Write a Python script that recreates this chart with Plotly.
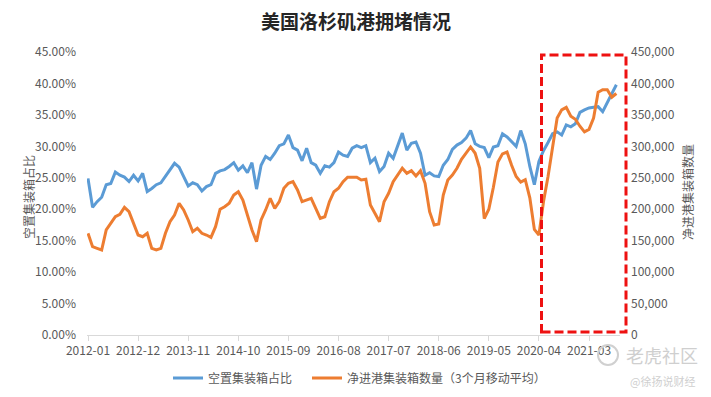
import pandas as pd
import plotly.graph_objects as go

# ---- data ----
months = [d.strftime("%Y-%m") for d in pd.date_range("2012-01-01", periods=117, freq="MS")]

empty_ratio = [
    24.9, 20.3, 21.2, 21.9, 23.9, 24.1, 25.9, 25.4, 25.1, 24.4,
    25.4, 24.5, 25.7, 22.8, 23.3, 23.9, 24.2, 25.3, 26.3, 27.3,
    26.7, 25.2, 23.7, 24.2, 23.9, 22.9, 23.6, 23.9, 25.7, 26.1,
    26.3, 26.8, 27.4, 26.2, 26.9, 25.8, 27.4, 23.2, 27.0, 28.4,
    27.9, 28.9, 30.1, 30.4, 31.8, 29.8, 29.4, 27.7, 29.7, 27.4,
    27.0, 25.7, 26.9, 26.7, 27.4, 29.1, 28.6, 28.4, 29.7, 30.1,
    29.8, 30.1, 27.4, 28.1, 26.0, 26.8, 28.9, 28.1, 30.2, 32.1,
    29.4, 30.5, 30.7, 28.9, 25.4, 25.8, 25.3, 25.2, 27.0, 27.9,
    29.5, 30.2, 30.6, 31.3, 32.5, 30.4, 30.0, 29.8, 28.2, 29.9,
    30.1, 32.0, 31.5, 30.7, 30.0, 32.5, 30.4, 26.8, 23.9, 27.6,
    29.3, 30.6, 32.0, 32.3, 31.8, 33.4, 33.1, 33.6, 35.4, 35.8,
    36.1, 36.2, 36.3, 35.5, 37.0, 38.5, 39.8,
]

net_inbound = [
    161700, 140400, 137800, 135200, 167000, 177600, 188100, 191900, 203000, 196100,
    177600, 159000, 156300, 161700, 137800, 135200, 137800, 161700, 180200, 190800,
    209400, 198800, 182900, 164300, 169600, 161700, 159000, 155300, 172200, 200000,
    204000, 209400, 222600, 227900, 214700, 190800, 167000, 148400, 182900, 198800,
    217400, 201400, 212000, 233300, 241200, 243800, 230600, 212000, 214700, 217400,
    201400, 185600, 188100, 212000, 227900, 233300, 243800, 250800, 251000, 250800,
    246500, 247600, 206700, 193500, 180200, 212000, 225300, 243800, 254400, 265100,
    257100, 261200, 252800, 261200, 241200, 196100, 174900, 176500, 222600, 246500,
    254400, 265100, 279400, 290000, 299000, 289000, 265000, 185000, 200000, 235000,
    275000, 288000, 291000, 270000, 252000, 243000, 247000, 218000, 168000, 159000,
    212000, 252000, 300000, 345000, 358000, 362000, 348000, 343000, 332000, 323000,
    327000, 345000, 386000, 390000, 390000, 378000, 384000,
]

tick_labels = months[::11]

name_blue = "空置集装箱占比"
name_orange = "净进港集装箱数量（3个月移动平均）"

FONT = "Noto Sans CJK SC, Noto Sans, sans-serif"
GREY = "#595959"

fig = go.Figure()
fig.add_trace(go.Scatter(x=months, y=empty_ratio, name=name_blue, mode="lines",
                         line=dict(color="#5B9BD5", width=3), yaxis="y", legend="legend"))
fig.add_trace(go.Scatter(x=months, y=net_inbound, name=name_orange, mode="lines",
                         line=dict(color="#ED7D31", width=3), yaxis="y2", legend="legend2"))

L, R, T, B = 87, 620, 52, 335
W, H = 711, 397

def px_x(p):
    return (p - L) / (R - L)

def px_y(p):
    return (B - p) / (B - T)

legend_style = dict(orientation="h", xanchor="left", y=px_y(378), yanchor="middle",
                    font=dict(size=12, color=GREY), bgcolor="rgba(0,0,0,0)", itemwidth=30)

fig.update_layout(
    width=W, height=H,
    margin=dict(l=L, r=W - R, t=T, b=H - B, pad=0, autoexpand=False),
    paper_bgcolor="white", plot_bgcolor="white",
    font=dict(family=FONT, size=12, color=GREY),
    showlegend=True,
    legend=dict(x=px_x(168), **legend_style),
    legend2=dict(x=px_x(307), **legend_style),
    title=dict(text="<b>美国洛杉矶港拥堵情况</b>", x=356 / W, xanchor="center",
               y=1 - 22 / H, yanchor="middle", font=dict(size=19, color="#262626", family=FONT)),
    xaxis=dict(type="category", range=[-0.22, 116.8], tickmode="array",
               tickvals=tick_labels, ticktext=tick_labels, showgrid=False,
               showline=True, linecolor="#D9D9D9", linewidth=1,
               ticks="outside", ticklen=5, tickcolor="#D9D9D9",
               tickfont=dict(size=12, color=GREY), tickangle=0, zeroline=False,
               automargin=False),
    yaxis=dict(range=[0, 45], tickmode="linear", tick0=0, dtick=5,
               tickformat=".2f", ticksuffix="%", showgrid=False, zeroline=False,
               showline=False, ticks="", ticklabelstandoff=10, automargin=False,
               tickfont=dict(size=12, color=GREY)),
    yaxis2=dict(range=[0, 450000], tickmode="linear", tick0=0, dtick=50000,
                tickformat=",d", overlaying="y", side="right", showgrid=False,
                zeroline=False, showline=False, ticks="", ticklabelstandoff=10,
                automargin=False, tickfont=dict(size=12, color=GREY)),
)

# axis titles
fig.add_annotation(text="空置集装箱占比", xref="paper", yref="paper",
                   x=px_x(28), y=px_y(197), textangle=-90, showarrow=False,
                   font=dict(size=12, color=GREY), xanchor="center", yanchor="middle")
fig.add_annotation(text="净进港集装箱数量", xref="paper", yref="paper",
                   x=px_x(687), y=px_y(192), textangle=-90, showarrow=False,
                   font=dict(size=12, color=GREY), xanchor="center", yanchor="middle")

# red dashed highlight box
fig.add_shape(type="rect", xref="paper", yref="paper",
              x0=px_x(541.5), x1=px_x(626), y0=px_y(332), y1=px_y(55),
              line=dict(color="#EE1111", width=3, dash="9px,4px"), fillcolor="rgba(0,0,0,0)")

# watermark
fig.add_shape(type="circle", xref="paper", yref="paper",
              x0=px_x(598), x1=px_x(618), y0=px_y(365), y1=px_y(345),
              line=dict(color="#D0D0D0", width=2))
fig.add_annotation(text="老虎社区", xref="paper", yref="paper", x=px_x(662), y=px_y(355),
                   showarrow=False, font=dict(size=18, color="#CFCFCF"),
                   xanchor="center", yanchor="middle")
fig.add_annotation(text="@徐扬说财经", xref="paper", yref="paper", x=px_x(662), y=px_y(381),
                   showarrow=False, font=dict(size=11, color="#CFCFCF"),
                   xanchor="center", yanchor="middle")

fig.write_html("out.html", config={"displayModeBar": False},
               post_script="document.body.style.margin='0';document.body.style.overflow='hidden';")
